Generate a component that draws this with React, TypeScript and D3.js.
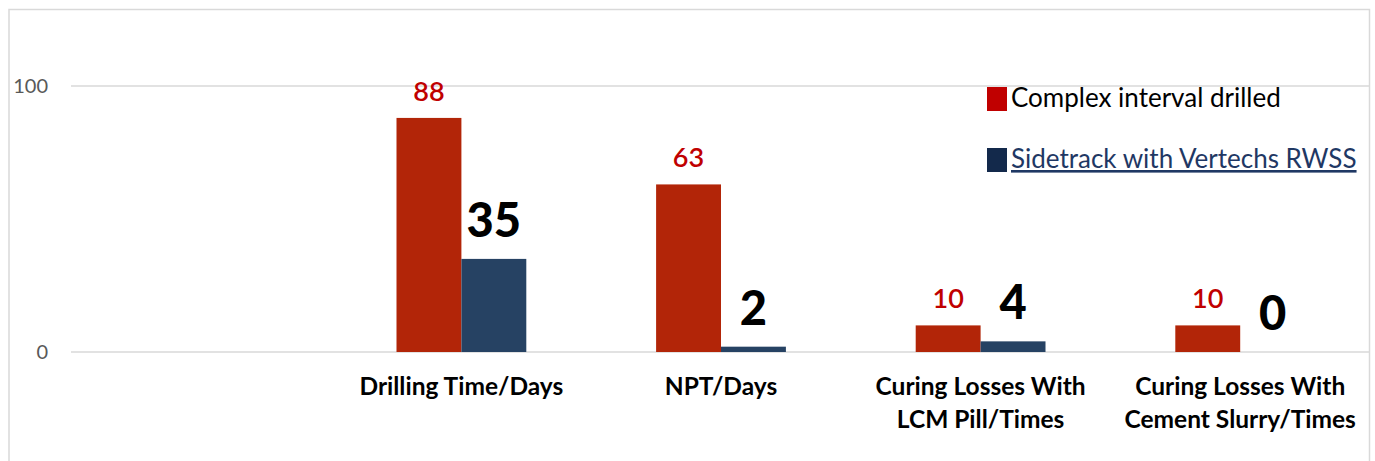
import React from "react";
import * as d3 from "d3";

const categories = [
  "",
  "Drilling Time/Days",
  "NPT/Days",
  "Curing Losses With\nLCM Pill/Times",
  "Curing Losses With\nCement Slurry/Times",
];
const seriesNames = ["Complex interval drilled", "Sidetrack with Vertechs RWSS"];
const complexValues = [null, 88, 63, 10, 10];
const sidetrackValues = [null, 35, 2, 4, 0];
const yTicks = [0, 100];

const W = 1375;
const H = 461;
const FONT = "Lato, 'Open Sans', sans-serif";

const barColors = ["#b22508", "#264263"];
const legendColors = ["#c00000", "#13294b"];

export default function App() {
  const x = d3.scaleBand<string>().domain(categories).range([72, 1370]);
  const x1 = d3
    .scaleBand<string>()
    .domain(seriesNames)
    .range([0, x.bandwidth()])
    .paddingInner(0)
    .paddingOuter(1);
  const y = d3.scaleLinear().domain([0, 100]).range([352, 86]);

  const series = [complexValues, sidetrackValues];

  return (
    <svg
      width={W}
      height={H}
      style={{ position: "absolute", left: 0, top: 0, background: "#fff" }}
      fontFamily={FONT}
    >
      {/* chart border */}
      <path d={`M9,${H + 2} V9.5 H1369.5 V${H + 2}`} fill="none" stroke="#d9d9d9" strokeWidth={1.5} />

      {yTicks.map((t) => (
        <g key={t}>
          <line x1={71} x2={1369} y1={y(t)} y2={y(t)} stroke="#d9d9d9" strokeWidth={1.5} />
          <text x={48} y={y(t) + 7} textAnchor="end" fontSize={20} fill="#595959">
            {t}
          </text>
        </g>
      ))}

      {categories.map((c, i) => (
        <g key={"c" + i} transform={`translate(${x(c)},0)`}>
          {series.map((vals, s) => {
            const v = vals[i];
            if (v == null) return null;
            const bx = x1(seriesNames[s])!;
            const bw = x1.bandwidth();
            return (
              <g key={s}>
                <rect x={bx} y={y(v)} width={bw} height={y(0) - y(v)} fill={barColors[s]} />
                {s === 0 ? (
                  <text
                    x={bx + bw / 2}
                    y={y(v) - 17}
                    textAnchor="middle"
                    fontSize={27}
                    fontWeight={600}
                    fill="#c00000"
                  >
                    {v}
                  </text>
                ) : (
                  <text
                    x={bx + bw / 2}
                    y={y(v) - 22}
                    textAnchor="middle"
                    fontSize={47}
                    fontWeight={900}
                    fill="#000"
                  >
                    {v}
                  </text>
                )}
              </g>
            );
          })}
          {c.split("\n").map((line, k) => (
            <text
              key={k}
              x={x.bandwidth() / 2}
              y={395 + k * 33}
              textAnchor="middle"
              fontSize={24.5}
              fontWeight={700}
              fill="#000"
            >
              {line}
            </text>
          ))}
        </g>
      ))}

      {/* legend */}
      {seriesNames.map((n, i) => (
        <g key={n} transform={`translate(987,${87 + i * 61})`}>
          <rect width={20} height={24} fill={legendColors[i]} />
          <text
            x={24}
            y={20}
            fontSize={26}
            fill={i === 0 ? "#000" : "#1f3864"}
            textDecoration={i === 1 ? "underline" : undefined}
          >
            {n}
          </text>
        </g>
      ))}
    </svg>
  );
}
